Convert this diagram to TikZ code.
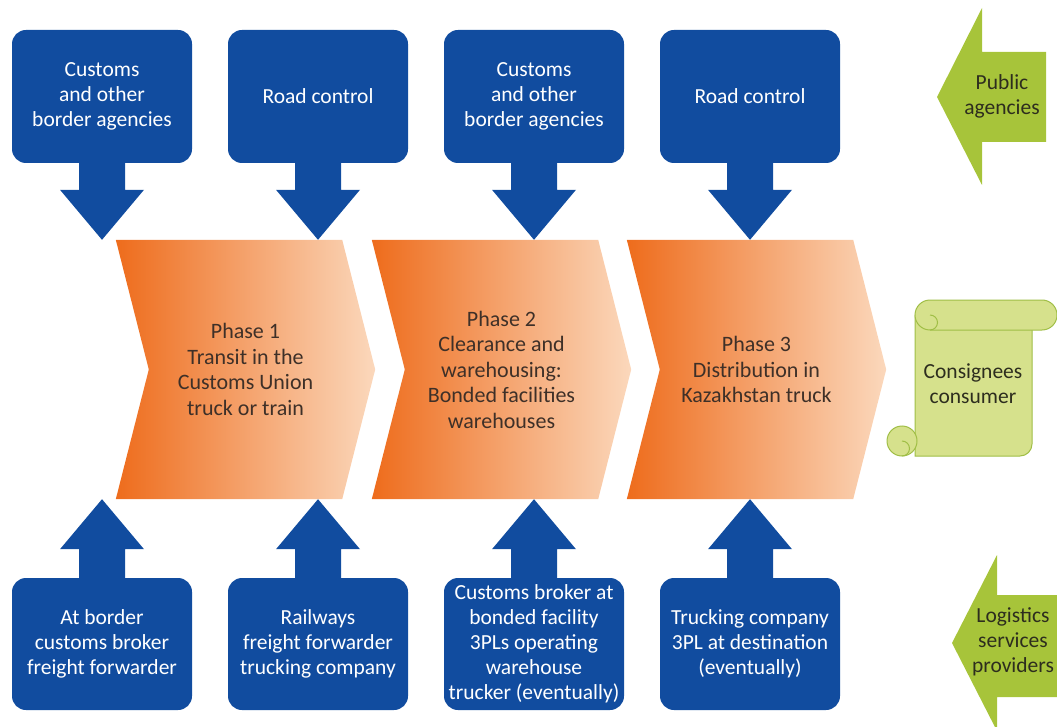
\documentclass[tikz,border=0pt]{standalone}
\usepackage{fontspec}
\setmainfont{Carlito}
\usepackage{tikz}
\usetikzlibrary{calc,backgrounds}
\definecolor{cblue}{RGB}{17,76,159}
\definecolor{corange}{RGB}{238,108,28}
\definecolor{cpeach}{RGB}{251,216,188}
\definecolor{cbrown}{RGB}{62,48,40}
\definecolor{clime}{RGB}{167,196,58}
\definecolor{cscroll}{RGB}{214,225,140}
\definecolor{cscrolledge}{RGB}{160,190,70}
\definecolor{cdark}{RGB}{45,45,30}
\newcommand{\blockarrow}[3]{%
  \fill[cblue] ($(#1)+(-23,0)$)--($(#1)+(23,0)$)--($(#1 |- #2)+(23,#3)$)
    --($(#1 |- #2)+(42,#3)$)--(#1 |- #2)--($(#1 |- #2)+(-42,#3)$)
    --($(#1 |- #2)+(-23,#3)$)--cycle;}
\newcommand{\chevron}[1]{%
  \begin{pgfonlayer}{background}
  \shade[left color=corange,middle color=corange!72!cpeach,right color=cpeach]
    (#1.north west)--($(#1.north east)+(-33,0)$)--(#1.east)
    --($(#1.south east)+(-33,0)$)--(#1.south west)--($(#1.west)+(33,0)$)--cycle;
  \end{pgfonlayer}}

\begin{document}
\begin{tikzpicture}[x=1pt,y=-1pt,
  bluebox/.style={fill=cblue,text=white,rounded corners=14pt,minimum width=180pt,
    minimum height=133pt,inner sep=0pt,align=center,font=\fontsize{21.5}{25}\selectfont},
  phase/.style={minimum width=259pt,minimum height=259pt,inner sep=0pt,align=center,
    text=cbrown,font=\fontsize{22}{25.5}\selectfont},
  tag/.style={text=cdark,align=center,font=\fontsize{21.5}{25}\selectfont},
]
\useasboundingbox (0,0) rectangle (1057,727);
\clip (0,0) rectangle (1057,727);

% ===== PHASES =====
\node[phase] (c1) at (245.5,369.5) {Phase 1\\Transit in the\\Customs Union\\truck or train};
\node[phase] (c2) at (501.5,369.5) {Phase 2\\Clearance and\\warehousing:\\Bonded facilities\\warehouses};
\node[phase] (c3) at (756.5,369.5) {Phase 3\\Distribution in\\Kazakhstan truck};
\foreach \c in {c1,c2,c3}{\chevron{\c}}

% ===== PUBLIC AGENCIES (top) =====
\node[bluebox] (t1) at (102,96.5) {Customs\\and other\\border agencies};
\node[bluebox] (t2) at (318,96.5) {Road control};
\node[bluebox] (t3) at (534,96.5) {Customs\\and other\\border agencies};
\node[bluebox] (t4) at (750,96.5) {Road control};
\blockarrow{t1.south}{c1.north}{-50}
\blockarrow{t2.south}{c1.north}{-50}
\blockarrow{t3.south}{c2.north}{-50}
\blockarrow{t4.south}{c3.north}{-50}

% ===== SERVICE PROVIDERS (bottom) =====
\tikzset{every node/.append style={font=\fontsize{21.5}{24.5}\selectfont}}
\node[bluebox,minimum height=132pt] (b1) at (102,644) {At border\\customs broker\\freight forwarder};
\node[bluebox,minimum height=132pt] (b2) at (318,644) {Railways\\freight forwarder\\trucking company};
\node[bluebox,minimum height=132pt] (b3) at (534,644) {Customs broker at\\bonded facility\\3PLs operating\\warehouse\\trucker (eventually)};
\node[bluebox,minimum height=132pt] (b4) at (750,644) {Trucking company\\3PL at destination\\(eventually)};
\blockarrow{b1.north}{c1.south}{50}
\blockarrow{b2.north}{c1.south}{50}
\blockarrow{b3.north}{c2.south}{50}
\blockarrow{b4.north}{c3.south}{50}

% ===== side arrows =====
\fill[clime] (937,97)--(982,8)--(982,52)--(1046,52)--(1046,142)--(982,142)--(982,185)--cycle;
\node[tag] (pub) at (1002,96) {Public\\agencies};
\fill[clime] (952,643)--(997,555)--(997,595)--(1070,595)--(1070,697)--(997,697)--(997,731)--cycle;
\node[tag] (lsp) at (1013,642) {Logistics\\services\\providers};

% ===== scroll =====
\filldraw[fill=cscroll,draw=cscrolledge,line width=1pt]
  (915,315)--(915,456)[rounded corners=12]--(1032,456)--(1032,330)[sharp corners]--(1032,315)--cycle;
\filldraw[fill=cscroll,draw=cscrolledge,line width=1pt]
  (930,300)--(1042,300) arc[start angle=-90,end angle=90,radius=15]
  --(930,330) arc[start angle=90,end angle=270,radius=15]--cycle;
\draw[cscrolledge,line width=1pt] (930,330) arc[start angle=90,end angle=-90,radius=7.5];
\filldraw[fill=cscroll,draw=cscrolledge,line width=1pt] (902,441) circle[radius=15];
\draw[cscrolledge,line width=1pt] (902,441) arc[start angle=-90,end angle=90,radius=7.5];
\node[tag] (cons) at (973,384) {Consignees\\consumer};

\end{tikzpicture}
\end{document}
